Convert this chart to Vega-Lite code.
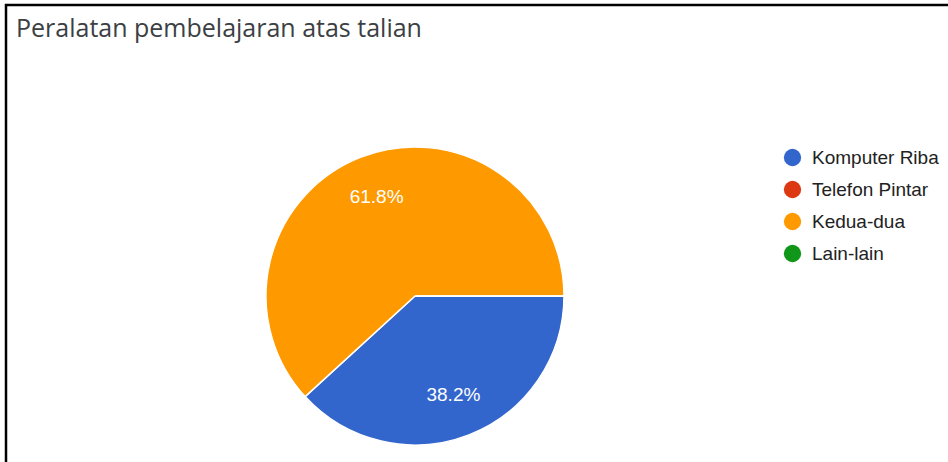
{
  "$schema": "https://vega.github.io/schema/vega-lite/v6.json",
  "autosize": "none",
  "padding": {"left": 6, "top": 5, "right": 0, "bottom": 0},
  "width": 960,
  "height": 480,
  "background": "white",
  "view": {"stroke": "black", "strokeWidth": 2.5},
  "title": {
    "text": "Peralatan pembelajaran atas talian",
    "anchor": "start",
    "frame": "group",
    "orient": "top",
    "font": "Open Sans",
    "fontSize": 25,
    "fontWeight": "normal",
    "color": "#3c4043",
    "baseline": "alphabetic",
    "offset": -57,
    "dx": 10
  },
  "data": {
    "values": [
      {"category": "Komputer Riba", "share": 0.382},
      {"category": "Telefon Pintar", "share": 0},
      {"category": "Kedua-dua", "share": 0.618},
      {"category": "Lain-lain", "share": 0}
    ]
  },
  "encoding": {
    "theta": {"field": "share", "type": "quantitative", "stack": true, "scale": {"range": [1.5707963, 7.8539816]}},
    "order": {"field": "category", "type": "nominal", "sort": "descending"},
    "color": {
      "field": "category",
      "type": "nominal",
      "sort": null,
      "scale": {
        "domain": ["Komputer Riba", "Telefon Pintar", "Kedua-dua", "Lain-lain"],
        "range": ["#3366cc", "#dc3912", "#ff9900", "#109618"]
      },
      "legend": {
        "title": null,
        "orient": "none",
        "legendX": 777,
        "legendY": 143,
        "symbolType": "circle",
        "symbolSize": 300,
        "symbolStrokeWidth": 0,
        "labelFont": "Liberation Sans",
        "labelFontSize": 19,
        "labelColor": "#222222",
        "labelOffset": 10,
        "rowPadding": 12,
        "padding": 0
      }
    }
  },
  "layer": [
    {
      "mark": {"type": "arc", "radius": 149, "x": 409, "y": 291, "stroke": "white", "strokeWidth": 1.5}
    },
    {
      "transform": [{"filter": "datum.share > 0"}],
      "mark": {"type": "text", "radius": 106, "x": 409, "y": 291, "font": "Liberation Sans", "fontSize": 19, "fill": "white"},
      "encoding": {
        "text": {"field": "share", "type": "quantitative", "format": ".1%"},
        "color": {"value": "white"}
      }
    }
  ]
}
